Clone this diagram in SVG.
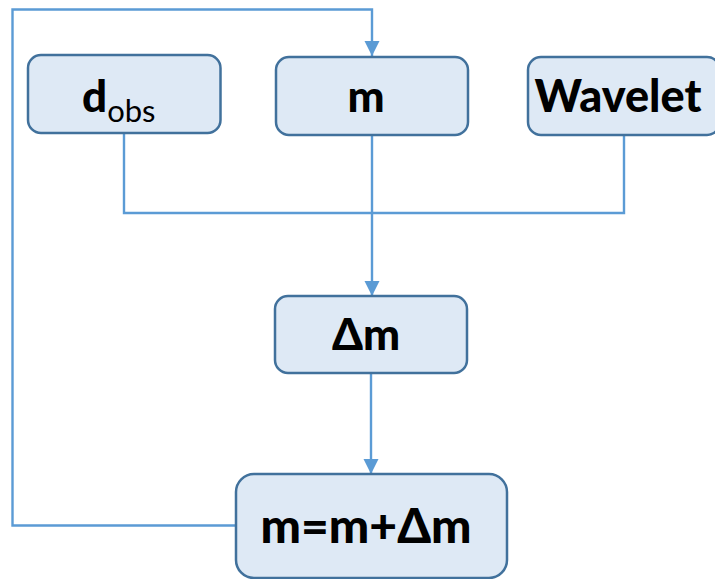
<svg xmlns="http://www.w3.org/2000/svg" width="715" height="579" viewBox="0 0 715 579">
<style>
.box{fill:#dee9f5;stroke:#41719c;stroke-width:2.5}
.lbl{font-family:Lato,"Open Sans","Liberation Sans",sans-serif;font-weight:900;fill:#000;text-anchor:middle}
.sub{font-family:Lato,"Open Sans","Liberation Sans",sans-serif;font-weight:normal}
.con{fill:none;stroke:#5b9bd5;stroke-width:2.4}
</style>
<defs>
<marker id="arr" markerWidth="16" markerHeight="16" refX="15" refY="8" orient="auto" markerUnits="userSpaceOnUse" viewBox="0 0 16 16">
<path d="M0,0.5 L15,8 L0,15.5 Z" fill="#5b9bd5"/>
</marker>
</defs>
<g id="connectors">
<path class="con" d="M124,134 V213 H624 V135"/>
<path class="con" d="M372,135 V296" marker-end="url(#arr)"/>
<path class="con" d="M371,373 V474" marker-end="url(#arr)"/>
<path class="con" d="M236,525.5 H12.5 V9.5 H372 V56" marker-end="url(#arr)"/>
</g>
<g id="dobs">
<rect class="box" x="28" y="55" width="192.5" height="78" rx="13"/>
<text class="lbl" x="82" y="112" font-size="44" style="text-anchor:start">d<tspan class="sub" font-size="31" dy="10">obs</tspan></text>
</g>
<g id="m">
<rect class="box" x="276" y="57" width="192" height="78" rx="13"/>
<text class="lbl" x="366" y="112" font-size="44">m</text>
</g>
<g id="wavelet">
<rect class="box" x="528" y="57" width="192" height="78" rx="13"/>
<text class="lbl" x="618" y="112" font-size="45">Wavelet</text>
</g>
<g id="dm">
<rect class="box" x="275" y="296" width="192" height="77" rx="13"/>
<text class="lbl" x="366" y="350" font-size="44">Δm</text>
</g>
<g id="update">
<rect class="box" x="236" y="474" width="271" height="104" rx="18"/>
<text class="lbl" x="366" y="543" font-size="48">m=m+Δm</text>
</g>
</svg>
